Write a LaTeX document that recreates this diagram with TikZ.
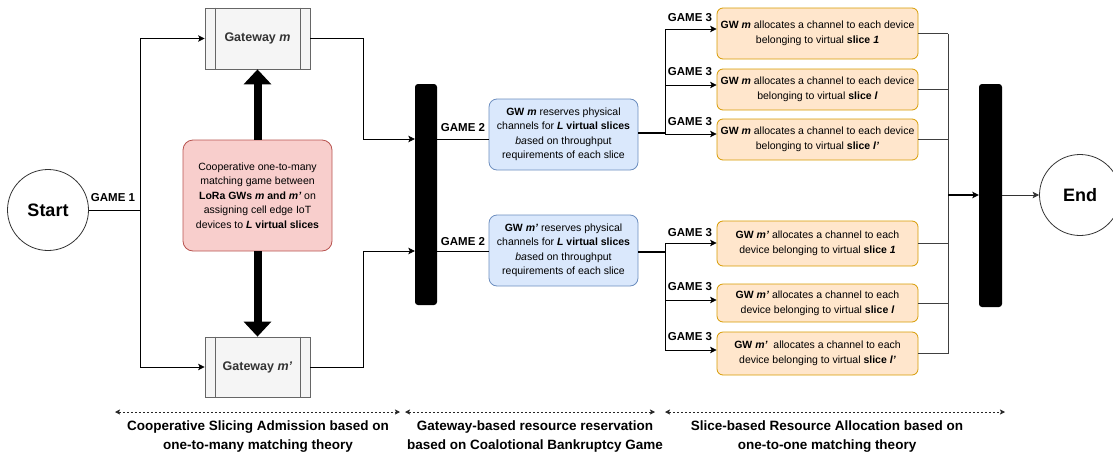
\documentclass[tikz,border=0pt]{standalone}
\usepackage{fontspec}
\setmainfont{Liberation Sans}
\usetikzlibrary{arrows.meta}
\definecolor{orfill}{HTML}{FFE6CC}\definecolor{ordraw}{HTML}{D79B00}
\definecolor{blfill}{HTML}{DAE8FC}\definecolor{bldraw}{HTML}{6C8EBF}
\definecolor{pkfill}{HTML}{F8CECC}\definecolor{pkdraw}{HTML}{B85450}
\definecolor{gyfill}{HTML}{F5F5F5}\definecolor{gydraw}{HTML}{666666}
\definecolor{gytext}{HTML}{333333}
\begin{document}
\begin{tikzpicture}[x=1pt,y=-1pt,
  every node/.style={inner sep=2pt},
  circ/.style={circle,draw=black!80,line width=0.8pt,minimum size=81pt,font=\fontsize{18}{20}\selectfont\bfseries},
  gw/.style={draw=gydraw,fill=gyfill,line width=0.8pt,minimum width=105pt,minimum height=61pt,text=gytext,font=\fontsize{12.5}{14}\selectfont\bfseries},
  pinkbox/.style={draw=pkdraw,fill=pkfill,rounded corners=10pt,line width=0.8pt,minimum width=149pt,minimum height=111pt,align=center,font=\fontsize{10.5}{14.5}\selectfont},
  bluebox/.style={draw=bldraw,fill=blfill,rounded corners=8pt,line width=0.8pt,minimum width=149pt,minimum height=71pt,align=center,font=\fontsize{10.5}{14.5}\selectfont},
  orbox/.style={draw=ordraw,fill=orfill,rounded corners=6pt,line width=0.8pt,minimum width=201pt,align=center,font=\fontsize{10.5}{15}\selectfont},
  barbox/.style={fill=black,rounded corners=3pt,minimum width=22pt},
  game/.style={font=\fontsize{11.5}{13}\selectfont\bfseries},
  caption/.style={align=center,font=\fontsize{13.5}{19}\selectfont\bfseries},
  arr/.style={-{Stealth[length=6.5pt,width=6.5pt,inset=1.5pt]},line width=0.8pt},
  conn/.style={line width=0.8pt},
  bigarrow/.style={line width=8pt,-{Triangle[length=15pt,width=27pt]}},
  dotarr/.style={{Stealth[length=5pt,width=5pt,inset=1pt]}-{Stealth[length=5pt,width=5pt,inset=1pt]},line width=0.8pt,dash pattern=on 2pt off 2pt,black!85},
]
\useasboundingbox (0,0) rectangle (1113,458);

% nodes
\node[circ] (start) at (48,210) {Start};
\node[gw] (gwm) at (257.5,38.5) {Gateway \textit{m}};
\node[gw,minimum height=60pt] (gwm2) at (257.5,367) {Gateway \textit{m'}};
\draw[draw=gydraw,line width=0.8pt] ([xshift=11pt]gwm.north west) -- ([xshift=11pt]gwm.south west)
  ([xshift=-10pt]gwm.north east) -- ([xshift=-10pt]gwm.south east)
  ([xshift=11pt]gwm2.north west) -- ([xshift=11pt]gwm2.south west)
  ([xshift=-10pt]gwm2.north east) -- ([xshift=-10pt]gwm2.south east);
\node[pinkbox] (coop) at (257.5,195.5) {Cooperative one-to-many\\matching game between\\\textbf{LoRa GWs \textit{m} and \textit{m'}} on\\assigning cell edge IoT\\devices to \textbf{\textit{L} virtual slices}};
\node[barbox,minimum height=221pt] (bar1) at (426,194.5) {};
\node[bluebox] (res1) at (563.5,134.5) {\textbf{GW \textit{m}} reserves physical\\channels for \textbf{\textit{L} virtual slices}\\\textit{ba}sed on throughput\\requirements of each slice};
\node[bluebox] (res2) at (563.5,250.5) {\textbf{GW \textit{m'}} reserves physical\\channels for \textbf{\textit{L} virtual slices}\\\textit{ba}sed on throughput\\requirements of each slice};
\node[orbox,minimum height=51pt] (o1) at (817.5,33.5) {\textbf{GW \textit{m}} allocates a channel to each device\\belonging to virtual \textbf{slice \textit{1}}};
\node[orbox,minimum height=41pt] (o2) at (817.5,89.5) {\textbf{GW \textit{m}} allocates a channel to each device\\belonging to virtual \textbf{slice \textit{l}}};
\node[orbox,minimum height=41pt] (o3) at (817.5,139.5) {\textbf{GW \textit{m}} allocates a channel to each device\\belonging to virtual \textbf{slice \textit{l'}}};
\node[orbox,minimum height=45pt] (o4) at (817.5,243.5) {\textbf{GW \textit{m'}} allocates a channel to each\\device belonging to virtual \textbf{slice \textit{1}}};
\node[orbox,minimum height=38pt] (o5) at (817.5,303) {\textbf{GW \textit{m'}} allocates a channel to each\\device belonging to virtual \textbf{slice \textit{l}}};
\node[orbox,minimum height=43pt] (o6) at (817.5,353.5) {\textbf{GW \textit{m'}}\ \ allocates a channel to each\\device belonging to virtual \textbf{slice \textit{l'}}};
\node[barbox,minimum width=23pt,minimum height=223pt] (bar2) at (990.5,195.5) {};
\node[circ] (end) at (1080,195) {End};

% labels
\node[game] (g1) at (113,198) {GAME 1};
\node[game] (g2a) at (463,128) {GAME 2};
\node[game] (g2b) at (463,242) {GAME 2};
\node[game] (g3a) at (690,18) {GAME 3};
\node[game] (g3b) at (690,72) {GAME 3};
\node[game] (g3c) at (690,122) {GAME 3};
\node[game] (g3d) at (690,233) {GAME 3};
\node[game] (g3e) at (690,287) {GAME 3};
\node[game] (g3f) at (690,337) {GAME 3};

% game 1 connectors
\coordinate (sp) at (140,210);
\draw[conn] (start.east) -- (sp);
\draw[arr] (sp) |- (gwm.west);
\draw[arr] (sp) |- (gwm2.west);
\draw[bigarrow] (coop.north) -- (gwm.south);
\draw[bigarrow] (coop.south) -- (gwm2.north);

% to bar 1
\coordinate (c1) at (363,139);
\coordinate (c2) at (363,251);
\draw[arr] (gwm.east) -| (c1) -- (bar1.west |- c1);
\draw[arr] (gwm2.east) -| (c2) -- (bar1.west |- c2);
\draw[conn] (bar1.east |- c1) -- (res1.west |- c1);
\draw[conn] (bar1.east |- c2) -- (res2.west |- c2);

% game 3 fan-out
\coordinate (d1) at (665,133);
\coordinate (d2) at (665,252);
\coordinate (t1) at (665,29);
\coordinate (t2) at (665,85);
\coordinate (t3) at (665,134);
\coordinate (t4) at (665,243);
\coordinate (t5) at (665,300);
\coordinate (t6) at (665,350);
\draw[line width=2.2pt] (res1.east |- d1) -- (d1);
\draw[line width=2.2pt] (res2.east |- d2) -- (d2);
\draw[conn] (t1) -- (t3);
\draw[conn] (t4) -- (t6);
\draw[arr] (t1) -- (o1.west |- t1);
\draw[arr] (t2) -- (o2.west |- t2);
\draw[arr] (t3) -- (o3.west |- t3);
\draw[arr] (t4) -- (o4.west |- t4);
\draw[arr] (t5) -- (o5.west |- t5);
\draw[arr] (t6) -- (o6.west |- t6);

% merge to bar 2
\coordinate (rx) at (948,195);
\foreach \o in {o1,o2,o3,o4,o5,o6} {\draw[conn,black!75] (\o.east) -- (\o.east -| rx);}
\draw[conn,black!75] (o1.east -| rx) -- (o6.east -| rx);
\draw[arr,line width=1.2pt] (rx) -- (bar2.west |- rx);
\draw[arr,black!80] (bar2.east |- end.west) -- (end.west);

% phase arrows
\coordinate (a1) at (115,412);\coordinate (a2) at (400,412);
\coordinate (b1) at (405,412);\coordinate (b2) at (655,412);
\coordinate (e1) at (665,412);\coordinate (e2) at (1005,412);
\draw[dotarr] (a1) -- (a2);
\draw[dotarr] (b1) -- (b2);
\draw[dotarr] (e1) -- (e2);
\node[caption] (cap1) at (258,436.5) {Cooperative Slicing Admission based on\\one-to-many matching theory};
\node[caption] (cap2) at (535,436.5) {Gateway-based resource reservation\\based on Coalotional Bankruptcy Game};
\node[caption] (cap3) at (827,436.5) {Slice-based Resource Allocation based on\\one-to-one matching theory};
\end{tikzpicture}
\end{document}
